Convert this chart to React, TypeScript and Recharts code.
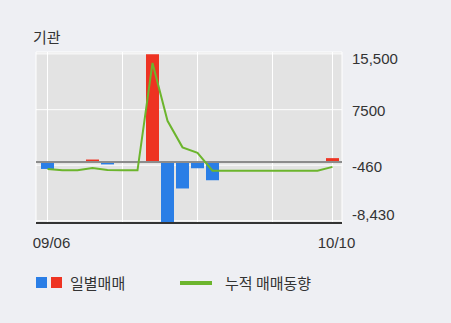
import React from 'react';
import { ComposedChart, Bar, Line, XAxis, YAxis, CartesianGrid, ReferenceLine, Cell } from 'recharts';

const dates = ['09/06', '09/07', '09/08', '09/11', '09/12', '09/13', '09/14', '09/15', '09/18', '09/19', '09/20', '09/21', '09/22', '09/25', '09/26', '09/27', '10/04', '10/05', '10/06', '10/10'];
const daily = [-1000, -150, 0, 350, -350, -100, 0, 15450, -8750, -3800, -900, -2620, 0, 0, 0, 0, 0, 0, 0, 550];
const cumulative = [-1000, -1200, -1200, -880, -1150, -1200, -1200, 14200, 5900, 2100, 1300, -1250, -1250, -1250, -1250, -1250, -1250, -1250, -1250, -700];
const yTicks = [-8430, -460, 7500, 15500];
const yTickLabels = ['-8,430', '-460', '7500', '15,500'];
const xGridDates = ['09/06', '09/13', '09/20', '09/27', '10/10'];
const xLabelDates = ['09/06', '10/10'];

const data = dates.map((d, i) => ({ date: d, daily: daily[i], cumulative: cumulative[i] }));

const BLUE = '#2a7ee6';
const RED = '#ee3322';
const GREEN = '#6cb52d';
const TEXT = '#333';
const NUM_FONT = "'Liberation Sans', 'Noto Sans CJK KR', sans-serif";
const KR_FONT = "'Noto Sans CJK KR', sans-serif";

const yShift: Record<string, number> = { '15500': 4.8, '7500': 0.8, '-460': 1, '-8430': -6.3 };

function YTick(props: any) {
  const { x, y, payload } = props;
  const idx = yTicks.indexOf(payload.value);
  const label = idx >= 0 ? yTickLabels[idx] : String(payload.value);
  const s = yShift[String(payload.value)] ?? 0;
  return (
    <text x={x + 2} y={y + s + 5.4} textAnchor="start" fontSize={15} fontFamily={NUM_FONT} fill={TEXT}>
      {label}
    </text>
  );
}

function XTick(props: any) {
  const { x, y, payload } = props;
  if (!xLabelDates.includes(payload.value)) return <g />;
  return (
    <text x={x + 4} y={y + 17.2} textAnchor="middle" fontSize={15} fontFamily={NUM_FONT} fill={TEXT}>
      {payload.value}
    </text>
  );
}

export default function App() {
  return (
    <div style={{ position: 'absolute', left: 0, top: 0, width: 451, height: 323, background: '#eeeff3', overflow: 'hidden' }}>
      <div style={{ position: 'absolute', left: 33, top: 28, fontSize: 15, lineHeight: '18px', fontFamily: KR_FONT, color: TEXT }}>기관</div>
      <ComposedChart width={451} height={323} data={data} margin={{ top: 52, right: 0, bottom: 0, left: 36 }}>
        <CartesianGrid yAxisId="right" fill="#e3e3e3" stroke="#ffffff" strokeWidth={1} />
        <XAxis
          dataKey="date"
          ticks={xGridDates}
          interval={0}
          height={100}
          padding={{ left: 4, right: 2 }}
          tickLine={false}
          axisLine={{ stroke: '#333', strokeWidth: 2 }}
          tick={<XTick />}
        />
        <YAxis yAxisId="left" orientation="left" width={0} domain={[-8750, 15770]} allowDataOverflow tick={false} tickLine={false} axisLine={{ stroke: '#333', strokeWidth: 2 }} />
        <YAxis yAxisId="right" orientation="right" width={109} domain={[-8750, 15770]} allowDataOverflow ticks={yTicks} interval={0} tickLine={false} axisLine={false} tick={<YTick />} />
        <Bar yAxisId="right" dataKey="daily" barSize={13} isAnimationActive={false}>
          {data.map((d, i) => (
            <Cell key={i} fill={d.daily >= 0 ? RED : BLUE} />
          ))}
        </Bar>
        <ReferenceLine yAxisId="right" y={0} stroke="#8c8c8c" strokeWidth={2} />
        <Line yAxisId="right" dataKey="cumulative" type="linear" stroke={GREEN} strokeWidth={2} dot={false} isAnimationActive={false} />
      </ComposedChart>
      <div style={{ position: 'absolute', left: 36, top: 277, width: 11, height: 11, background: BLUE }} />
      <div style={{ position: 'absolute', left: 51, top: 277, width: 11, height: 11, background: RED }} />
      <div style={{ position: 'absolute', left: 70, top: 273, fontSize: 15, lineHeight: '20px', fontFamily: KR_FONT, color: TEXT }}>일별매매</div>
      <div style={{ position: 'absolute', left: 180, top: 281, width: 32, height: 4, background: GREEN }} />
      <div style={{ position: 'absolute', left: 225, top: 273, fontSize: 15, lineHeight: '20px', fontFamily: KR_FONT, color: TEXT, whiteSpace: 'pre' }}>누적 매매동향</div>
    </div>
  );
}
